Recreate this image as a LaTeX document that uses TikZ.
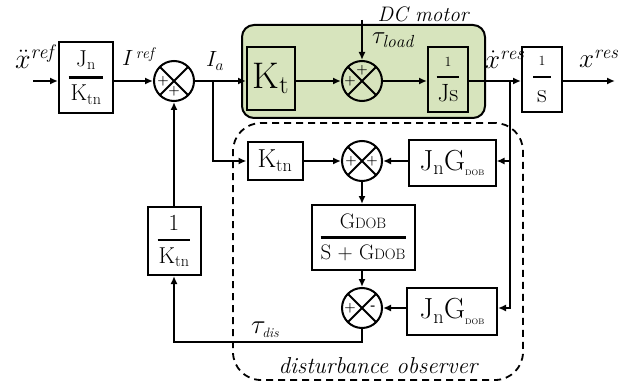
\RequirePackage{fix-cm}
\documentclass[tikz,border=0pt]{standalone}
\usepackage{amsmath}
\usepackage{fontspec}
\usetikzlibrary{arrows.meta}
\definecolor{motorgreen}{HTML}{D7E4BD}
\newcommand{\fs}[1]{\fontsize{#1}{#1}\selectfont}
\newcommand{\fr}[3]{$\genfrac{}{}{#1}{0}{\mbox{#2}}{\mbox{#3}}$}
\begin{document}
\begin{tikzpicture}[x=1pt,y=-1pt,line width=2pt,
  >={Latex[length=8pt,width=7pt]},
  blk/.style={draw,inner sep=0pt,align=center},
  sumj/.style={circle,draw,minimum size=40pt,inner sep=0pt,
    path picture={\draw[line width=2pt]
      (path picture bounding box.north west)--(path picture bounding box.south east)
      (path picture bounding box.north east)--(path picture bounding box.south west);}},
  sgn/.style={inner sep=0pt,font=\fs{13}\bfseries},
  lbl/.style={inner sep=0pt,anchor=base west},
  dashbox/.style={draw,line width=1.8pt,dash pattern=on 7pt off 5pt,rounded corners=28pt,inner sep=0pt},
  greenbox/.style={draw,fill=motorgreen,rounded corners=12pt,inner sep=0pt}]
\useasboundingbox (0,0) rectangle (621,385);

% enclosing boxes
\node[greenbox,minimum width=243pt,minimum height=93pt] (motor) at (363.5,71.5) {};
\node[dashbox,minimum width=290pt,minimum height=257pt] (dob) at (378,251.5) {};

% blocks
\node[blk,minimum width=54pt,minimum height=71pt] (b1) at (86,77.5)
  {\fs{23}\fr{2.2pt}{J\textsubscript{n}}{\hspace{2pt}K\textsubscript{tn}\hspace{2pt}}};
\node[blk,minimum width=48pt,minimum height=63pt] (kt) at (271,78.5)
  {\fs{37}K\textsubscript{t}};
\node[blk,minimum width=40pt,minimum height=65pt] (js) at (448,79.5)
  {\fs{25}\fr{2.2pt}{\fs{14}1}{\hspace{1pt}Js\hspace{1pt}}};
\node[blk,minimum width=40pt,minimum height=65pt] (is) at (542,79.5)
  {\fs{27}\fr{2.2pt}{\fs{14}1}{\hspace{4pt}s\hspace{4pt}}};
\node[blk,minimum width=55pt,minimum height=37pt] (ktn2) at (275,161)
  {\fs{26}K\textsubscript{tn}};
\node[blk,minimum width=87pt,minimum height=45pt] (jg1) at (452,163)
  {\fs{29}J\textsubscript{n}G\raisebox{-0.2em}{\fs{8}DOB}};
\node[blk,minimum width=103pt,minimum height=65pt] (gd) at (363,237.5)
  {\fs{21}\fr{2.2pt}{G{\fs{15}DOB}}{S + G{\fs{15}DOB}}};
\node[blk,minimum width=90pt,minimum height=47pt] (jg2) at (452,311.5)
  {\fs{29}J\textsubscript{n}G\raisebox{-0.2em}{\fs{8}DOB}};
\node[blk,minimum width=53pt,minimum height=68pt] (ik) at (174,241)
  {\fs{23}\fr{2.2pt}{1}{\hspace{1pt}K\textsubscript{tn}\hspace{1pt}}};

% summing junctions
\node[sumj] (s1) at (174,81) {};
\node[sumj] (s2) at (362,81) {};
\node[sumj] (s3) at (362,161) {};
\node[sumj] (s4) at (362,308) {};
\node[sgn] (s1a) at ([xshift=-11pt]s1.center) {+};
\node[sgn] (s1b) at ([yshift=-10pt]s1.center) {+};
\node[sgn] (s2a) at ([xshift=-12pt]s2.center) {+};
\node[sgn] (s2b) at ([yshift=11pt]s2.center) {+};
\node[sgn] (s3a) at ([xshift=-11pt]s3.center) {+};
\node[sgn] (s3b) at ([xshift=10pt]s3.center) {+};
\node[sgn] (s4a) at ([xshift=-12pt]s4.center) {+};
\node[sgn] (s4b) at ([xshift=11pt]s4.center) {-};

% coordinates
\coordinate (in) at (33,81);
\coordinate (out) at (615,81);
\coordinate (ia) at (213,81);
\coordinate (xr) at (510,81);
\coordinate (tl) at (362,20);
\coordinate (bot) at (362,342);

% labels
\node[lbl] (lxref) at (14,69) {\fs{28}$\ddot{x}^{\mathit{ref}}$};
\node[lbl] (liref) at (121,66) {\fs{22}$I^{\,\mathit{ref}}$};
\node[lbl] (lia) at (205,67) {\fs{22}$I_a$};
\node[lbl] (lxd) at (484,69) {\fs{27}$\dot{x}^{\mathit{res}}$};
\node[lbl] (lxr) at (578,68) {\fs{27}$x^{\mathit{res}}$};
\node[lbl] (ltl) at (371,44) {\fs{25}$\tau_{\mathit{load}}$};
\node[lbl] (ltd) at (250,333) {\fs{27}$\tau_{\scriptscriptstyle\mathit{dis}}$};
\node[inner sep=0pt,anchor=base] (lmotor) at (423,22) {\fs{21}\itshape DC motor};
\node[inner sep=0pt,anchor=base] (ldob) at (378,373) {\fs{23}\itshape disturbance observer};

% connectors
\draw[->] (in) -- (in -| b1.west);
\draw[->] (b1.east |- s1) -- (s1);
\draw[->] (s1) -- (s1 -| kt.west);
\draw[->] (kt.east |- s2) -- (s2);
\draw[->] (s2) -- (s2 -| js.west);
\draw[->] (js.east |- s2) -- (s2 -| is.west);
\draw[->] (is.east |- s2) -- (out);
\draw[->] (tl) -- (s2);
\draw[->] (ia) |- (ktn2);
\draw[->] (ktn2) -- (s3);
\draw[->] (xr) |- (s3 -| jg1.east);
\draw[->] (jg1.west |- s3) -- (s3);
\draw[->] (xr) |- (s4 -| jg2.east);
\draw[->] (jg2.west |- s4) -- (s4);
\draw[->] (s3) -- (s3 |- gd.north);
\draw[->] (gd.south -| s4) -- (s4);
\draw[->] (s4) -- (bot) -| (ik);
\draw[->] (ik) -- (s1);
\end{tikzpicture}
\end{document}
